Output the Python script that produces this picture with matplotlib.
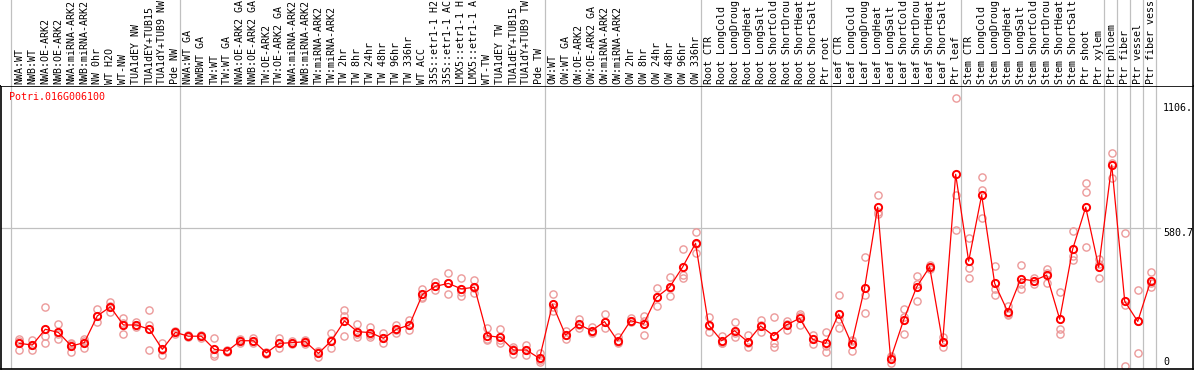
import numpy as np
import matplotlib
matplotlib.use("Agg")
import matplotlib.pyplot as plt
import matplotlib.transforms as mtransforms

# ---------------- data ----------------
gene_id = "Potri.016G006100"

labels_g1 = ["NWA:WT", "NWB:WT", "NWA:OE-ARK2", "NWB:OE-ARK2", "NWA:miRNA-ARK2",
             "NWB:miRNA-ARK2", "NW 0hr", "WT H2O", "WT-NW", "TUA1dEY NW",
             "TUA1dEY+TUB15", "TUA1dY+TUB9 NW", "Pde NW"]
labels_g2 = ["NWA:WT GA", "NWBWT GA", "TW:WT", "TW:WT GA", "NWA:OE-ARK2 GA",
             "NWB:OE-ARK2 GA", "TW:OE-ARK2", "TW:OE-ARK2 GA", "NWA:miRNA-ARK2",
             "NWB:miRNA-ARK2", "TW:miRNA-ARK2", "TW:miRNA-ARK2", "TW 2hr", "TW 8hr",
             "TW 24hr", "TW 48hr", "TW 96hr", "TW 336hr", "WT ACC", "35S::etr1-1 H2",
             "35S::etr1-1 AC", "LMX5::etr1-1 H", "LMX5::etr1-1 A", "WT-TW",
             "TUA1dEY TW", "TUA1dEY+TUB15", "TUA1dY+TUB9 TW", "Pde TW"]
labels_g3 = ["OW:WT", "OW:WT GA", "OW:OE-ARK2", "OW:OE-ARK2 GA", "OW:miRNA-ARK2",
             "OW:miRNA-ARK2", "OW 2hr", "OW 8hr", "OW 24hr", "OW 48hr", "OW 96hr",
             "OW 336hr"]
labels_g4 = ["Root CTR", "Root LongCold", "Root LongDroug", "Root LongHeat",
             "Root LongSalt", "Root ShortCold", "Root ShortDrou", "Root ShortHeat",
             "Root ShortSalt", "Ptr root"]
labels_g5 = ["Leaf CTR", "Leaf LongCold", "Leaf LongDroug", "Leaf LongHeat",
             "Leaf LongSalt", "Leaf ShortCold", "Leaf ShortDrou", "Leaf ShortHeat",
             "Leaf ShortSalt", "Ptr leaf"]
labels_g6 = ["Stem CTR", "Stem LongCold", "Stem LongDroug", "Stem LongHeat",
             "Stem LongSalt", "Stem ShortCold", "Stem ShortDrou", "Stem ShortHeat",
             "Stem ShortSalt", "Ptr shoot", "Ptr xylem"]
labels_g7 = ["Ptr phloem", "Ptr fiber", "Ptr vessel", "Ptr fiber vess"]

group_sizes = [13, 28, 12, 10, 10, 11, 1, 1, 1, 1]

means = [99, 92, 158, 145, 88, 102, 214, 252, 176, 176, 158, 74, 145,
         129, 129, 74, 67, 110, 110, 59, 99, 102, 106, 57, 110, 193, 148, 144,
         120, 158, 176, 304, 338, 350, 327, 334, 131, 124, 71, 71, 36,
         263, 134, 179, 152, 190, 110, 194, 180, 292, 334, 418, 518,
         176, 110, 152, 106, 172, 131, 176, 204, 116, 99,
         222, 96, 331, 669, 34, 197, 335, 419, 103, 807,
         443, 720, 350, 232, 369, 361, 385, 200, 494, 669, 418,
         846, 275, 191, 361]

rep1 = [117, 113, 250, 180, 64, 117, 243, 272, 204, 187, 237, 100, 150,
        135, 135, 120, 72, 118, 120, 62, 120, 108, 112, 66, 141, 237, 180, 169,
        141, 176, 196, 327, 355, 392, 371, 364, 162, 158, 85, 92, 57,
        304, 151, 200, 169, 221, 127, 204, 214, 330, 375, 493, 565,
        208, 131, 190, 134, 197, 208, 193, 222, 134, 145,
        302, 113, 459, 720, 47, 243, 381, 427, 124, 1125,
        539, 796, 423, 255, 426, 374, 409, 313, 568, 769, 452,
        895, 560, 322, 397]
rep2 = [71, 71, 131, 116, 100, 78, 187, 232, 138, 166, 176, 52, 140,
        125, 122, 47, 62, 100, 102, 56, 78, 96, 98, 43, 78, 130, 127, 127,
        99, 141, 155, 294, 321, 307, 297, 309, 113, 102, 53, 50, 20,
        235, 117, 162, 141, 162, 99, 187, 134, 254, 297, 385, 476,
        148, 99, 124, 82, 145, 99, 155, 176, 95, 62,
        165, 67, 302, 639, 15, 211, 275, 410, 82, 720,
        416, 741, 327, 218, 346, 348, 353, 158, 466, 732, 371,
        790, 4, 57, 336]
rep3 = [110, 92, 99, 140, 95, 110, 212, 255, 186, 176, 70, 70, 145,
        128, 130, 55, 67, 112, 108, 59, 99, 102, 108, 62, 111, 212, 137, 136,
        120, 157, 177, 291, 338, 351, 313, 329, 118, 112, 75, 71, 31,
        250, 134, 175, 146, 187, 104, 191, 192, 292, 330, 374, 513,
        172, 100, 142, 102, 174, 85, 180, 214, 119, 90,
        199, 108, 227, 650, 40, 138, 349, 420, 103, 572,
        371, 623, 300, 223, 327, 361, 393, 137, 448, 501, 430,
        853, 261, 193, 350]

tick_values = [1106, 580.7, 0]
tick_labels = ["1106.", "580.7", "0"]
grid_value = 580.7

# ---------------- layout ----------------
W, H = 1194, 370
DPI = 100
px0, pdx = 19.3, 13.005          # pixel x of first column, column pitch
y0_px, sy = 367.0, 0.2388        # pixel row of value 0, pixels per unit

labels = labels_g1 + labels_g2 + labels_g3 + labels_g4 + labels_g5 + labels_g6 + labels_g7
n = len(labels)
x = np.arange(n)

fig = plt.figure(figsize=(W / DPI, H / DPI), dpi=DPI)
ax_left, ax_right, ax_top, ax_bot = 1, 1193, 86, 369
ax = fig.add_axes([ax_left / W, (H - ax_bot) / H, (ax_right - ax_left) / W, (ax_bot - ax_top) / H])
hax = fig.add_axes([ax_left / W, (H - ax_top) / H, (ax_right - ax_left) / W, ax_top / H])

xlim = ((ax_left - px0) / pdx, (ax_right - px0) / pdx)
ylim = ((y0_px - ax_bot) / sy, (y0_px - ax_top) / sy)
for a in (ax, hax):
    a.set_xlim(*xlim)
    a.set_xticks([])
    a.set_yticks([])
ax.set_ylim(*ylim)
hax.set_ylim(ax_top, 0)

grey = "#c0c0c0"
bounds = np.concatenate([[0], np.cumsum(group_sizes)]) - 0.615
for b in bounds:
    ax.axvline(b, color=grey, lw=0.9, zorder=1)
    hax.axvline(b, color=grey, lw=0.9, zorder=1)
gx_end = (1160 - ax_left) / (ax_right - ax_left)
ax.axhline(grid_value, xmin=0, xmax=gx_end, color=grey, lw=0.9, zorder=1)

for s in ax.spines.values():
    s.set_color("black")
    s.set_linewidth(1.2)
for k, s in hax.spines.items():
    s.set_visible(k == "right")
    s.set_color("black")
    s.set_linewidth(1.2)

mono = "DejaVu Sans Mono"
fs = 7.2
for i, lab in enumerate(labels):
    hax.text(i, 84, lab, rotation=90, ha="center", va="bottom",
             fontfamily=mono, fontsize=fs, color="black")

# replicates
rep_col = "#ec9a9a"
for r in (rep1, rep2, rep3):
    ax.plot(x, r, linestyle="none", marker="o", ms=5.2, mfc="none",
            mec=rep_col, mew=1.0, zorder=2, clip_on=True)

# means
ax.plot(x, means, color="#ff0000", lw=0.9, zorder=3)
ax.plot(x, means, linestyle="none", marker="o", ms=5.2, mfc="none",
        mec="#ff0000", mew=1.4, zorder=4)

# title
ax.text((9.3 - px0) / pdx, (y0_px - 97) / sy, gene_id, ha="left", va="center",
        fontfamily=mono, fontsize=fs, color="#ff0000")

# right-side scale labels
trans = mtransforms.blended_transform_factory(ax.transAxes, ax.transData)
lx = (1163 - ax_left) / (ax_right - ax_left)
for v, t in zip(tick_values, tick_labels):
    ax.text(lx, v, t, transform=trans, ha="left",
            va="bottom" if v == 0 else "top",
            fontfamily=mono, fontsize=fs, color="black")

fig.savefig("out.png", dpi=DPI)
